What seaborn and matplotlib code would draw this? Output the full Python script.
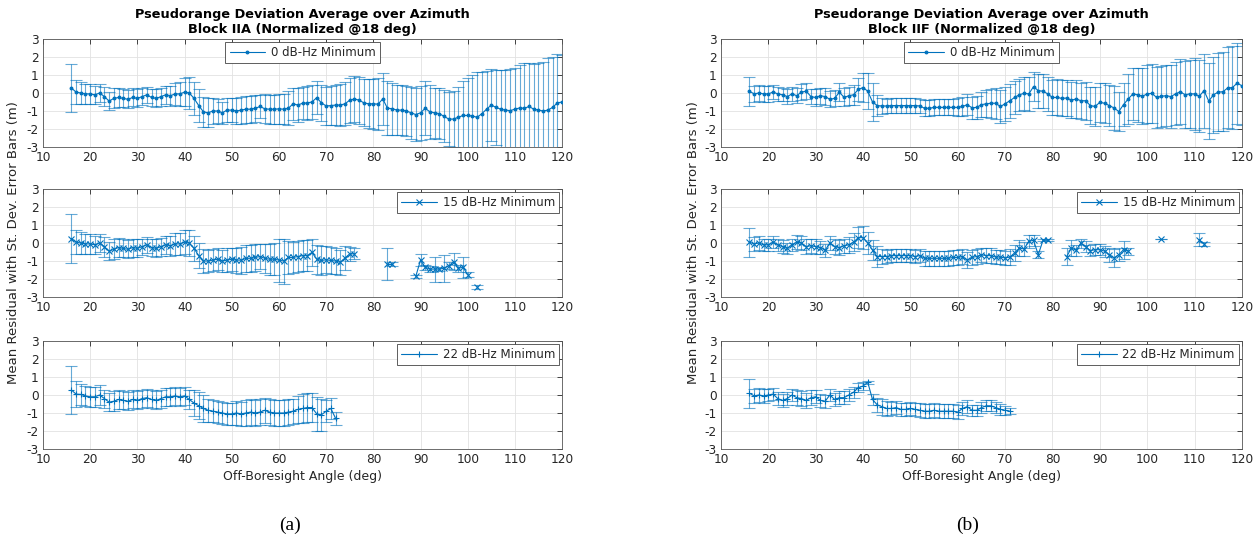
import numpy as np
import pandas as pd
import matplotlib
matplotlib.use("Agg")
import matplotlib.pyplot as plt
from matplotlib.lines import Line2D
import seaborn as sns

# ---------------------------------------------------------------------------
# Mean residual and standard deviation (m) per off-boresight angle (deg)
# ---------------------------------------------------------------------------

# Block IIA, 0 dB-Hz minimum
angle_iia_0 = list(range(16, 121))
mean_iia_0 = [
    0.28, 0.05, 0.0, -0.05, -0.05, -0.1, 0.0, -0.2, -0.45, -0.3,
    -0.25, -0.3, -0.35, -0.25, -0.3, -0.2, -0.1, -0.25, -0.3, -0.2,
    -0.1, -0.15, -0.05, -0.05, 0.05, 0.0, -0.3, -0.7, -1.05, -1.1,
    -1.0, -1.0, -1.1, -0.95, -0.95, -1.0, -0.95, -0.9, -0.9, -0.85,
    -0.75, -0.88, -0.9, -0.9, -0.88, -0.9, -0.85, -0.6, -0.67, -0.57,
    -0.55, -0.5, -0.26, -0.55, -0.72, -0.7, -0.67, -0.67, -0.6, -0.4,
    -0.33, -0.4, -0.55, -0.6, -0.6, -0.62, -0.33, -0.85, -0.87, -0.95,
    -0.95, -1.0, -1.1, -1.2, -1.1, -0.85, -1.05, -1.1, -1.15, -1.3,
    -1.45, -1.45, -1.35, -1.25, -1.25, -1.28, -1.35, -1.15, -0.9, -0.67,
    -0.8, -0.9, -0.95, -0.98, -0.9, -0.83, -0.85, -0.75, -0.9, -0.95,
    -1.0, -0.95, -0.8, -0.55, -0.5,
]
std_iia_0 = [
    1.35, 0.65, 0.6, 0.55, 0.55, 0.5, 0.5, 0.55, 0.5, 0.55,
    0.55, 0.5, 0.5, 0.5, 0.5, 0.45, 0.45, 0.45, 0.5, 0.5,
    0.5, 0.55, 0.6, 0.65, 0.8, 0.9, 0.9, 0.9, 0.85, 0.8,
    0.7, 0.65, 0.6, 0.65, 0.65, 0.7, 0.75, 0.75, 0.75, 0.75,
    0.65, 0.8, 0.8, 0.8, 0.85, 0.85, 0.95, 0.9, 0.95, 0.9,
    0.95, 0.95, 0.9, 1.0, 1.05, 1.1, 1.1, 1.15, 1.2, 1.25,
    1.3, 1.3, 1.3, 1.35, 1.4, 1.45, 1.45, 1.5, 1.45, 1.4,
    1.4, 1.4, 1.45, 1.45, 1.5, 1.5, 1.5, 1.4, 1.4, 1.45,
    1.5, 1.55, 1.7, 1.9, 2.1, 2.3, 2.5, 2.3, 2.1, 2.0,
    2.1, 2.2, 2.2, 2.3, 2.3, 2.4, 2.5, 2.4, 2.5, 2.6,
    2.7, 2.9, 2.8, 2.7, 2.6,
]

# Block IIA, 15 dB-Hz minimum
angle_iia_15 = list(range(16, 77)) + [83, 84] + list(range(89, 101)) + [102]
mean_iia_15 = [
    0.25, 0.05, 0.0, -0.05, -0.05, -0.1, 0.0, -0.2, -0.45, -0.35,
    -0.25, -0.3, -0.35, -0.25, -0.3, -0.2, -0.1, -0.25, -0.3, -0.2,
    -0.1, -0.15, -0.05, -0.05, 0.05, 0.0, -0.3, -0.7, -1.0, -1.0,
    -0.95, -0.9, -1.0, -0.95, -0.9, -0.95, -0.95, -0.85, -0.85, -0.8,
    -0.75, -0.85, -0.9, -0.9, -0.95, -1.0, -0.8, -0.8, -0.75, -0.7,
    -0.7, -0.52, -0.9, -0.97, -0.93, -0.97, -1.0, -1.07, -0.83, -0.6, -0.6,
    -1.15, -1.15,
    -1.85, -0.95, -1.35, -1.45, -1.45, -1.45, -1.4, -1.27, -1.03, -1.4, -1.35, -1.75,
    -2.45,
]
std_iia_15 = [
    1.35, 0.65, 0.6, 0.55, 0.55, 0.5, 0.5, 0.55, 0.5, 0.55,
    0.55, 0.5, 0.5, 0.5, 0.5, 0.45, 0.45, 0.45, 0.5, 0.5,
    0.5, 0.55, 0.6, 0.6, 0.65, 0.7, 0.7, 0.7, 0.65, 0.6,
    0.6, 0.6, 0.6, 0.65, 0.65, 0.7, 0.75, 0.75, 0.75, 0.75,
    0.7, 0.8, 0.85, 0.9, 1.2, 1.25, 0.9, 0.85, 0.85, 0.85,
    0.85, 0.75, 0.8, 0.8, 0.75, 0.75, 0.7, 0.7, 0.65, 0.4, 0.3,
    0.9, 0.12,
    0.1, 0.35, 0.15, 0.15, 0.7, 0.1, 0.75, 0.2, 0.45, 0.2, 0.6, 0.15,
    0.1,
]

# Block IIA, 22 dB-Hz minimum
angle_iia_22 = list(range(16, 73))
mean_iia_22 = [
    0.28, 0.05, 0.03, -0.05, -0.1, -0.1, 0.0, -0.2, -0.4, -0.35,
    -0.25, -0.3, -0.35, -0.25, -0.3, -0.2, -0.15, -0.25, -0.3, -0.2,
    -0.1, -0.1, -0.05, -0.1, -0.05, -0.25, -0.45, -0.6, -0.75, -0.85,
    -0.9, -0.95, -1.0, -1.05, -1.05, -1.0, -1.05, -1.0, -0.95, -1.0,
    -0.95, -0.85, -0.95, -1.0, -1.0, -1.0, -0.95, -0.9, -0.8, -0.75,
    -0.7, -0.7, -1.05, -1.1, -0.9, -0.75, -1.3,
]
std_iia_22 = [
    1.35, 0.7, 0.6, 0.55, 0.55, 0.55, 0.55, 0.5, 0.5, 0.55,
    0.55, 0.5, 0.5, 0.5, 0.5, 0.5, 0.5, 0.5, 0.5, 0.5,
    0.5, 0.5, 0.5, 0.5, 0.5, 0.55, 0.7, 0.75, 0.75, 0.65,
    0.6, 0.6, 0.6, 0.6, 0.6, 0.65, 0.65, 0.7, 0.7, 0.7,
    0.7, 0.7, 0.7, 0.7, 0.7, 0.7, 0.7, 0.7, 0.75, 0.8,
    0.8, 0.8, 0.95, 0.9, 0.6, 0.6, 0.35,
]

# Block IIF, 0 dB-Hz minimum
angle_iif_0 = list(range(16, 121))
mean_iif_0 = [
    0.1, -0.05, 0.0, -0.05, -0.05, 0.05, -0.05, -0.1, -0.2, -0.05,
    -0.15, 0.05, 0.1, -0.2, -0.25, -0.15, -0.2, -0.35, -0.3, 0.05,
    -0.25, -0.15, -0.1, 0.2, 0.3, 0.1, -0.5, -0.7, -0.72, -0.72,
    -0.7, -0.7, -0.7, -0.7, -0.7, -0.7, -0.72, -0.85, -0.85, -0.8,
    -0.8, -0.8, -0.8, -0.8, -0.8, -0.75, -0.65, -0.82, -0.8, -0.65,
    -0.6, -0.57, -0.57, -0.75, -0.6, -0.43, -0.25, -0.1, -0.02, -0.05,
    0.35, 0.13, 0.1, -0.05, -0.25, -0.25, -0.3, -0.28, -0.4, -0.33,
    -0.43, -0.43, -0.7, -0.75, -0.52, -0.57, -0.7, -0.83, -1.03, -0.65,
    -0.33, -0.05, -0.1, -0.18, -0.05, -0.02, -0.25, -0.18, -0.15, -0.2,
    -0.05, 0.07, -0.1, -0.05, -0.05, -0.18, 0.13, -0.45, -0.1, 0.05,
    0.07, 0.28, 0.3, 0.55, 0.4,
]
std_iif_0 = [
    0.8, 0.45, 0.45, 0.45, 0.45, 0.4, 0.4, 0.35, 0.4, 0.4,
    0.4, 0.45, 0.45, 0.4, 0.45, 0.45, 0.45, 0.45, 0.45, 0.5,
    0.5, 0.5, 0.55, 0.65, 0.8, 1.0, 1.05, 0.6, 0.45, 0.4,
    0.4, 0.4, 0.4, 0.4, 0.4, 0.4, 0.4, 0.45, 0.45, 0.45,
    0.45, 0.45, 0.45, 0.45, 0.5, 0.55, 0.6, 0.6, 0.65, 0.7,
    0.75, 0.8, 0.85, 0.9, 0.95, 0.95, 0.9, 0.9, 0.9, 0.95,
    0.8, 0.95, 0.95, 0.95, 0.95, 1.0, 1.0, 1.0, 1.0, 1.05,
    1.0, 1.05, 1.05, 1.1, 1.1, 1.1, 1.15, 1.2, 1.1, 1.2,
    1.4, 1.45, 1.5, 1.55, 1.6, 1.65, 1.7, 1.7, 1.7, 1.75,
    1.75, 1.8, 1.85, 1.9, 2.0, 2.0, 2.05, 2.1, 2.1, 2.15,
    2.2, 2.25, 2.3, 2.25, 2.2,
]

# Block IIF, 15 dB-Hz minimum
angle_iif_15 = list(range(16, 80)) + list(range(83, 97)) + [103, 111, 112]
mean_iif_15 = [
    0.05, -0.05, 0.0, -0.1, -0.1, 0.05, -0.1, -0.2, -0.3, -0.1,
    0.05, 0.0, -0.2, -0.15, -0.2, -0.25, -0.4, 0.0, -0.2, -0.25,
    -0.15, -0.1, 0.05, 0.3, 0.3, 0.0, -0.4, -0.75, -0.75, -0.75,
    -0.7, -0.7, -0.7, -0.7, -0.7, -0.75, -0.7, -0.85, -0.85, -0.85,
    -0.85, -0.85, -0.85, -0.8, -0.8, -0.75, -0.95, -0.8, -0.75, -0.65,
    -0.7, -0.7, -0.78, -0.78, -0.83, -0.78, -0.55, -0.28, -0.33, 0.1,
    0.15, -0.65, 0.15, 0.15,
    -0.75, -0.28, -0.4, 0.0, -0.2, -0.42, -0.37, -0.37, -0.45, -0.65,
    -0.83, -0.65, -0.37, -0.45,
    0.22, 0.18, -0.04,
]
std_iif_15 = [
    0.8, 0.4, 0.4, 0.35, 0.35, 0.35, 0.35, 0.35, 0.3, 0.35,
    0.4, 0.4, 0.4, 0.4, 0.4, 0.35, 0.35, 0.4, 0.4, 0.4,
    0.4, 0.45, 0.5, 0.6, 0.65, 0.6, 0.55, 0.6, 0.4, 0.35,
    0.35, 0.35, 0.35, 0.35, 0.35, 0.35, 0.35, 0.4, 0.4, 0.4,
    0.4, 0.4, 0.4, 0.4, 0.4, 0.4, 0.45, 0.4, 0.4, 0.4,
    0.4, 0.4, 0.4, 0.4, 0.4, 0.45, 0.45, 0.45, 0.4, 0.35,
    0.3, 0.2, 0.05, 0.05,
    0.45, 0.45, 0.3, 0.25, 0.3, 0.3, 0.3, 0.3, 0.3, 0.4,
    0.5, 0.35, 0.5, 0.2,
    0.02, 0.35, 0.12,
]

# Block IIF, 22 dB-Hz minimum
angle_iif_22 = list(range(16, 72))
mean_iif_22 = [
    0.1, -0.05, 0.0, -0.05, 0.0, 0.05, -0.2, -0.3, -0.2, 0.0,
    -0.15, -0.2, -0.3, -0.15, -0.1, -0.3, -0.35, 0.0, -0.25, -0.15,
    -0.15, 0.0, 0.15, 0.4, 0.5, 0.7, -0.25, -0.55, -0.65, -0.75,
    -0.75, -0.7, -0.8, -0.8, -0.75, -0.8, -0.85, -0.9, -0.9, -0.85,
    -0.9, -0.9, -0.9, -0.9, -0.95, -0.75, -0.65, -0.85, -0.85, -0.7,
    -0.6, -0.6, -0.7, -0.8, -0.85, -0.9,
]
std_iif_22 = [
    0.8, 0.4, 0.4, 0.4, 0.35, 0.35, 0.35, 0.35, 0.35, 0.35,
    0.4, 0.4, 0.4, 0.4, 0.35, 0.35, 0.35, 0.35, 0.35, 0.35,
    0.35, 0.35, 0.3, 0.25, 0.2, 0.1, 0.3, 0.4, 0.45, 0.4,
    0.35, 0.35, 0.35, 0.35, 0.35, 0.35, 0.4, 0.4, 0.4, 0.4,
    0.4, 0.4, 0.4, 0.4, 0.4, 0.35, 0.35, 0.3, 0.3, 0.3,
    0.3, 0.3, 0.3, 0.3, 0.25, 0.15,
]

block_titles = ["Block IIA (Normalized @18 deg)", "Block IIF (Normalized @18 deg)"]
legend_labels = ["0 dB-Hz Minimum", "15 dB-Hz Minimum", "22 dB-Hz Minimum"]
row_markers = [".", "x", "+"]
x_ticks = list(range(10, 121, 10))
y_ticks = [-3, -2, -1, 0, 1, 2, 3]

# ---------------------------------------------------------------------------
sns.set_theme(style="white")
plt.rcParams["font.family"] = ["DejaVu Sans"]
plt.rcParams["axes.unicode_minus"] = False

BLUE = "#0072BD"
INK = "#262626"

fig = plt.figure(figsize=(12.58, 5.46), dpi=100)

col_left = [0.0342, 0.5731]
col_width = [0.4126, 0.4141]
row_bottom = [0.7308, 0.456, 0.1777]
row_height = 0.1978

panels = [
    [(angle_iia_0, mean_iia_0, std_iia_0),
     (angle_iia_15, mean_iia_15, std_iia_15),
     (angle_iia_22, mean_iia_22, std_iia_22)],
    [(angle_iif_0, mean_iif_0, std_iif_0),
     (angle_iif_15, mean_iif_15, std_iif_15),
     (angle_iif_22, mean_iif_22, std_iif_22)],
]
marker_sizes = [4, 4, 5]


def draw_panel(ax, angles, means, stds, marker, msize, label, legend_loc):
    df = pd.DataFrame({"angle": angles, "mean": means, "std": stds})
    df["segment"] = (df["angle"].diff() > 1).cumsum()
    ax.errorbar(df["angle"], df["mean"], yerr=df["std"], fmt="none",
                ecolor=BLUE, elinewidth=0.8, capsize=4.5, capthick=0.8,
                alpha=0.6, zorder=2)
    sns.lineplot(data=df, x="angle", y="mean", units="segment",
                 estimator=None, color=BLUE, linewidth=0.8, marker=marker,
                 markersize=msize, markeredgewidth=0.8,
                 markeredgecolor=BLUE, markerfacecolor=BLUE,
                 legend=False, ax=ax, zorder=3)
    ax.set_xlim(10, 120)
    ax.set_ylim(-3, 3)
    ax.set_xticks(x_ticks)
    ax.set_yticks(y_ticks)
    ax.set_xlabel("")
    ax.set_ylabel("")
    ax.set_axisbelow(True)
    ax.grid(True, color="#e2e2e2", linewidth=0.6)
    ax.tick_params(direction="in", length=3.5, width=0.6, top=True,
                   right=True, labelsize=8.7, colors=INK, pad=3)
    for sp in ax.spines.values():
        sp.set_color("#555555")
        sp.set_linewidth(0.6)
    handle = Line2D([0], [0], color=BLUE, lw=0.8, marker=marker,
                    markersize=msize, markeredgecolor=BLUE,
                    markerfacecolor=BLUE, markeredgewidth=0.8)
    leg = ax.legend([handle], [label], loc=legend_loc, fontsize=8.5,
                    handlelength=3.0, borderaxespad=0.25, fancybox=False,
                    framealpha=1.0, borderpad=0.35, handletextpad=0.5)
    leg.get_frame().set_edgecolor("#444444")
    leg.get_frame().set_linewidth(0.6)


for c in range(2):
    for r in range(3):
        ax = fig.add_axes([col_left[c], row_bottom[r], col_width[c], row_height])
        angles, means, stds = panels[c][r]
        loc = "upper center" if r == 0 else "upper right"
        draw_panel(ax, angles, means, stds, row_markers[r], marker_sizes[r],
                   legend_labels[r], loc)
        if r == 0:
            ax.set_title("Pseudorange Deviation Average over Azimuth\n"
                         + block_titles[c], fontsize=9.3, fontweight="bold",
                         color="black", pad=4, linespacing=1.2)
        if r == 2:
            ax.set_xlabel("Off-Boresight Angle (deg)", fontsize=9,
                          color=INK, labelpad=3)

fig.text(14 / 1258, 0.555, "Mean Residual with St. Dev. Error Bars (m)",
         rotation=90, ha="center", va="center", fontsize=9.5, color=INK)
fig.text(693 / 1258, 0.555, "Mean Residual with St. Dev. Error Bars (m)",
         rotation=90, ha="center", va="center", fontsize=9.5, color=INK)

fig.text(290 / 1258, 21 / 546, "(a)", ha="center", va="center",
         fontsize=14, family="Liberation Serif", color="black")
fig.text(968 / 1258, 21 / 546, "(b)", ha="center", va="center",
         fontsize=14, family="Liberation Serif", color="black")

fig.savefig("out.png", dpi=100)
